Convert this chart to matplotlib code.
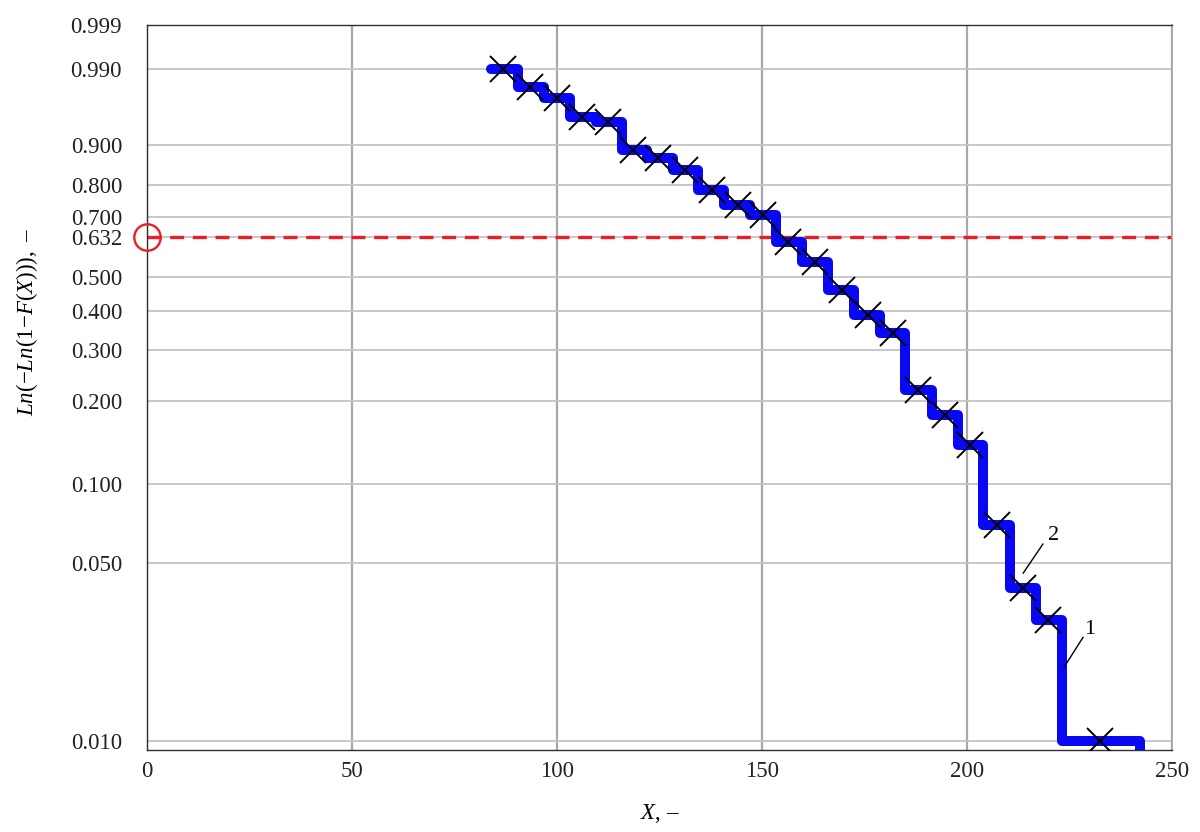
"""Weibull probability plot: empirical step curve (1) and data points (2)."""

import matplotlib

matplotlib.use("Agg")
import matplotlib.pyplot as plt
import numpy as np

# ---------------------------------------------------------------------------
# Data
# ---------------------------------------------------------------------------

# Data points (curve 2): X value and probability level F
point_x = [86.8, 93.4, 100.0, 106.1, 112.4, 118.5, 124.6, 131.2, 137.8, 144.1,
           150.2, 156.3, 162.9, 169.5, 175.9, 182.0, 188.0, 194.6, 200.7, 207.3,
           213.7, 219.8, 232.4]
point_F = [0.990, 0.980, 0.971, 0.950, 0.942, 0.890, 0.872, 0.842, 0.785, 0.738,
           0.705, 0.615, 0.549, 0.460, 0.388, 0.340, 0.219, 0.179, 0.139, 0.0697,
           0.0398, 0.0299, 0.010]

# Step curve (curve 1): edges between levels; the levels are the point levels
step_edges = [84.0, 90.5, 96.8, 103.2, 109.5, 115.9, 122.0, 128.3, 134.4, 140.7,
              147.1, 153.4, 159.8, 166.1, 172.4, 178.8, 184.9, 191.5, 197.8, 203.9,
              210.5, 216.8, 223.2, 242.2]
step_tail_F = 0.005  # the curve drops off the bottom of the axes at its end

# Characteristic level 1 - 1/e
ref_F = 0.632

x_ticks = [0, 50, 100, 150, 200, 250]
y_ticks = [0.010, 0.050, 0.100, 0.200, 0.300, 0.400, 0.500, 0.632, 0.700,
           0.800, 0.900, 0.990, 0.999]

X_MIN, X_MAX = 0, 250
F_MIN, F_MAX = 0.00924, 0.999


def weibull_fwd(F):
    F = np.clip(np.asarray(F, dtype=float), 1e-9, 1 - 1e-12)
    return np.log(-np.log(1.0 - F))


def weibull_inv(w):
    return 1.0 - np.exp(-np.exp(np.asarray(w, dtype=float)))


plt.rcParams["font.family"] = ["Liberation Serif", "DejaVu Serif"]
plt.rcParams["mathtext.fontset"] = "custom"
plt.rcParams["mathtext.rm"] = "Liberation Serif"
plt.rcParams["mathtext.it"] = "Liberation Serif:italic"

fig = plt.figure(figsize=(12, 8.32), dpi=100)
ax = fig.add_axes([0.1225, 0.0986, 0.8542, 0.8714])
ax.set_yscale("function", functions=(weibull_fwd, weibull_inv))

# step curve 1
ax.plot(step_edges, point_F + [step_tail_F], drawstyle="steps-post",
        color="#0808f5", linewidth=7.2, solid_capstyle="round",
        solid_joinstyle="round", zorder=3)

# data points 2
ax.plot(point_x, point_F, linestyle="none", marker="x", markersize=19,
        markeredgewidth=1.4, color="black", zorder=4)

# 0.632 reference line and circle on the axis
ax.plot([X_MIN, X_MAX], [ref_F, ref_F], color="#ee1c24", linewidth=2.4,
        dashes=(4.2, 2.6), zorder=2)
ax.plot([X_MIN], [ref_F], marker="o", markersize=19, markerfacecolor="none",
        markeredgecolor="#ee1c24", markeredgewidth=1.7, clip_on=False, zorder=5)

# curve labels with leader lines
ax.plot([213.7, 218.5], [0.0455, 0.0589], color="black", linewidth=1.0, zorder=5)
ax.text(221.0, 0.0638, "2", fontsize=16, ha="center", va="center")
ax.plot([223.7, 228.3], [0.0196, 0.0256], color="black", linewidth=1.0, zorder=5)
ax.text(229.8, 0.0275, "1", fontsize=16, ha="center", va="center")

ax.set_xlim(X_MIN, X_MAX)
ax.set_ylim(F_MIN, F_MAX)
ax.set_xticks(x_ticks)
ax.set_xticklabels([str(v) for v in x_ticks])
ax.set_yticks(y_ticks)
ax.set_yticklabels([f"{v:.3f}" for v in y_ticks])
ax.yaxis.set_minor_locator(matplotlib.ticker.NullLocator())

ax.tick_params(axis="both", length=0, labelsize=16.5, labelcolor="#222222")
ax.tick_params(axis="y", pad=18)
ax.tick_params(axis="x", pad=8)

ax.xaxis.grid(True, color="#a8a8a8", linewidth=1.6)
ax.yaxis.grid(True, color="#c4c4c4", linewidth=1.3)
ax.set_axisbelow(True)
for side in ("left", "bottom", "top"):
    ax.spines[side].set_color("#303030")
    ax.spines[side].set_linewidth(1.0)
ax.spines["right"].set_color("#a0a0a0")
ax.spines["right"].set_linewidth(1.2)

ax.set_xlabel(r"$X$, –", fontsize=16.5, labelpad=14)
ax.set_ylabel(r"$Ln(-Ln(1{-}F(X))),$ –", fontsize=16.5)
ax.yaxis.set_label_coords(-0.104, 0.59)

fig.savefig("out.png", dpi=100)
